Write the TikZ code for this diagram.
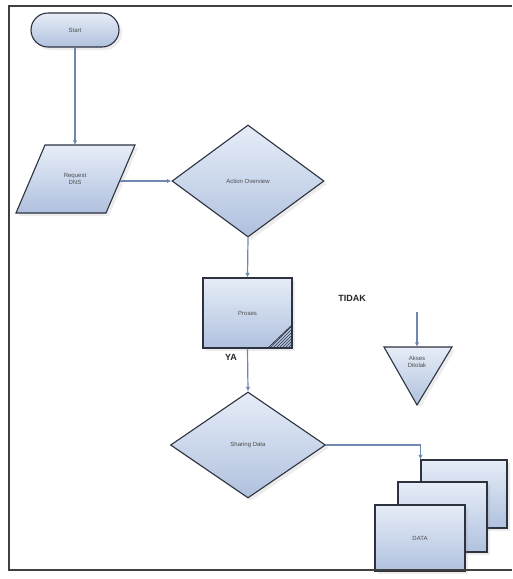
\documentclass[tikz,border=0pt]{standalone}
\usepackage{fontspec}
\setmainfont{Liberation Sans}
\usetikzlibrary{shapes.geometric,shapes.misc,shadows,arrows.meta,patterns}

\definecolor{fillA}{RGB}{230,237,248}
\definecolor{fillB}{RGB}{176,193,222}
\definecolor{edgec}{RGB}{45,50,62}
\definecolor{connc}{RGB}{112,136,175}

\begin{document}
\begin{tikzpicture}[x=1pt,y=-1pt,
  shp/.style={draw=edgec, line width=1.1pt, top color=fillA, bottom color=fillB,
    drop shadow={opacity=0.15, shadow xshift=3pt, shadow yshift=-3pt}},
  lbl/.style={font=\fontsize{6}{7}\selectfont, text=black!70, align=center},
  ghost/.style={inner sep=0pt, draw=none},
  connline/.style={draw=connc, line width=1.2pt},
  conn/.style={connline, -{Latex[length=4.5pt,width=4.5pt]}},
  boldlbl/.style={font=\bfseries\fontsize{9}{10}\selectfont, text=black!85}]

\useasboundingbox (0,0) rectangle (512,579);
\fill[white] (0,0) rectangle (512,579);

% Start terminator
\node[shp, lbl, rounded rectangle, minimum width=88pt, minimum height=34pt, inner sep=0pt] (start) at (75,30) {Start};

% Parallelogram (input)
\draw[shp] (45,145) -- (135,145) -- (106,213) -- (16,213) -- cycle;
\node[ghost, lbl, minimum width=90pt, minimum height=68pt] (req) at (75,179) {Request\\DNS};

% Diamond 1
\node[shp, lbl, diamond, minimum width=152pt, minimum height=112pt, inner sep=0pt] (d1) at (248,181) {Action Overview};

% Process with curled corner
\node[shp, lbl, rectangle, minimum width=89pt, minimum height=70pt, inner sep=0pt] (proc) at (247.5,313) {Proses};
\fill[pattern=north east lines, pattern color=edgec] (268,348) -- (292,348) -- (292,325) -- cycle;
\draw[edgec, line width=0.8pt] (268,348) -- (292,325);

% Diamond 2
\node[shp, lbl, diamond, minimum width=155pt, minimum height=106pt, inner sep=0pt] (d2) at (248,445) {Sharing Data};

% Triangle (inverted)
\draw[shp] (384,347) -- (452,347) -- (417,405) -- cycle;
\node[ghost, lbl, minimum width=68pt, minimum height=58pt] (tri) at (417,376) {};
\node[lbl] (trit) at (417,362) {Akses\\Ditolak};
\coordinate (tin) at (417,312);

% Multi document
\node[shp, rectangle, minimum width=86pt, minimum height=68pt, inner sep=0pt] (back) at (464,494) {};
\node[shp, rectangle, minimum width=89pt, minimum height=70pt, inner sep=0pt] (mid) at (442.5,517) {};
\node[shp, lbl, rectangle, minimum width=90pt, minimum height=66pt, inner sep=0pt] (front) at (420,538) {DATA};

% Labels
\node[boldlbl] (ya) at (231,357) {YA};
\node[boldlbl] (tidak) at (352,298) {TIDAK};

% Connectors
\draw[conn] (start.south) -- (req.north);
\draw[conn] (req.east |- d1.west) -- (d1.west);
\draw[conn] (d1.south) -- (proc.north);
\draw[conn] (proc.south) -- (d2.north);
\draw[conn] (tin) -- (tri.north);
\draw[conn] (d2.east) -| (back.north west);

% Frame
\draw[black!75, line width=2pt] (512,6) -- (9,6) -- (9,570) -- (512,570);
\end{tikzpicture}
\end{document}
